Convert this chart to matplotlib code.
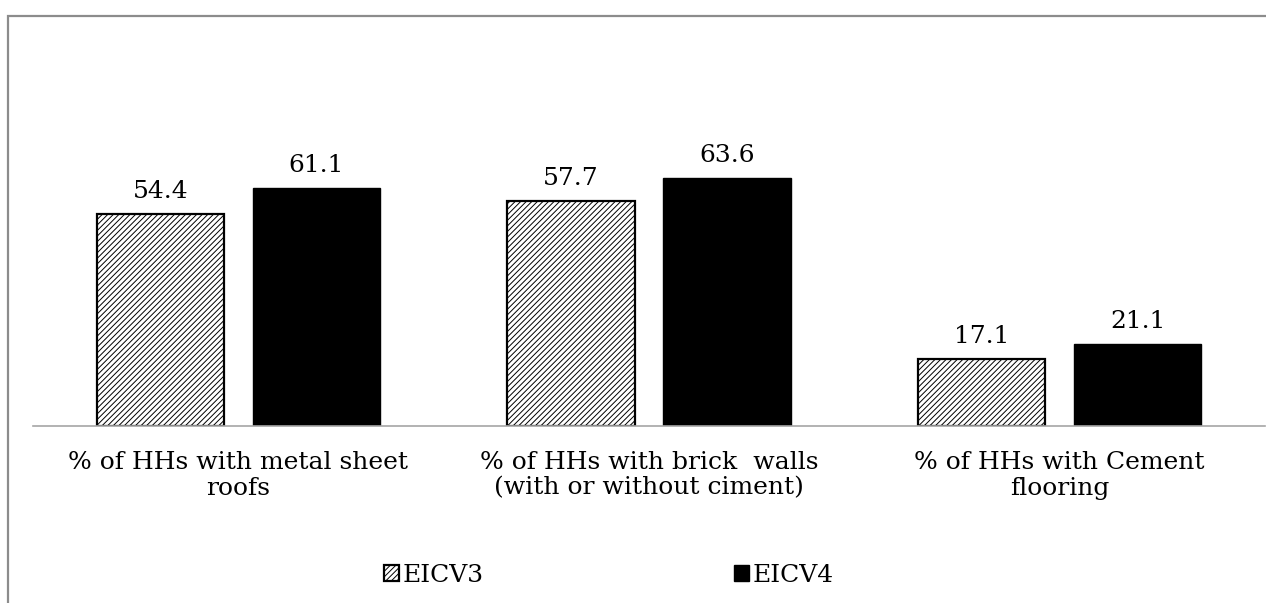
import matplotlib
matplotlib.use("Agg")
from matplotlib import pyplot as plt
from matplotlib.patches import Rectangle
import numpy as np

# data
categories = ["% of HHs with metal sheet\nroofs",
              "% of HHs with brick  walls\n(with or without ciment)",
              "% of HHs with Cement\nflooring"]
eicv3 = [54.4, 57.7, 17.1]
eicv4 = [61.1, 63.6, 21.1]
series_names = ["EICV3", "EICV4"]

plt.rcParams["font.family"] = ["DejaVu Serif"]
plt.rcParams["hatch.linewidth"] = 0.7

fig = plt.figure(figsize=(12.66, 6.03), dpi=100)
ax = fig.add_axes([33 / 1266, 177 / 603, 1232 / 1266, 273 / 603])

x = np.arange(len(categories))
w = 0.31
b3 = ax.bar(x - 0.19, eicv3, w, color="white", edgecolor="black",
            linewidth=1.6, hatch="//////", label=series_names[0])
b4 = ax.bar(x + 0.19, eicv4, w, color="black", edgecolor="black",
            linewidth=1.0, label=series_names[1])

for bars, vals in [(b3, eicv3), (b4, eicv4)]:
    for r, v in zip(bars, vals):
        ax.annotate(f"{v:.1f}", (r.get_x() + r.get_width() / 2, v),
                    xytext=(0, 8), textcoords="offset points",
                    ha="center", va="bottom", fontsize=18)

ax.set_xlim(-0.5, 2.5)
ax.set_ylim(0, 70)
ax.set_xticks(x)
ax.set_xticklabels(categories, fontsize=18, linespacing=1.15)
ax.tick_params(axis="x", length=0, pad=18)
ax.set_yticks([])
for s in ["top", "right", "left"]:
    ax.spines[s].set_visible(False)
ax.spines["bottom"].set_color("#a6a6a6")
ax.spines["bottom"].set_linewidth(1.2)

fig.legend(handles=[b3, b4], loc="center left",
           bbox_to_anchor=(384 / 1266, 1 - 575 / 603),
           ncol=2, frameon=False, fontsize=18, handlelength=0.6,
           handleheight=0.6, handletextpad=0.15, columnspacing=10.0,
           borderpad=0, borderaxespad=0)

# outer chart border (gray, runs off the right/bottom edges)
fig.patches.append(Rectangle((8 / 1266, -0.1), 1.2, 1 - 16 / 603 + 0.1,
                             transform=fig.transFigure, fill=False,
                             edgecolor="#8c8c8c", linewidth=1.6))

fig.savefig("out.png", dpi=100)
